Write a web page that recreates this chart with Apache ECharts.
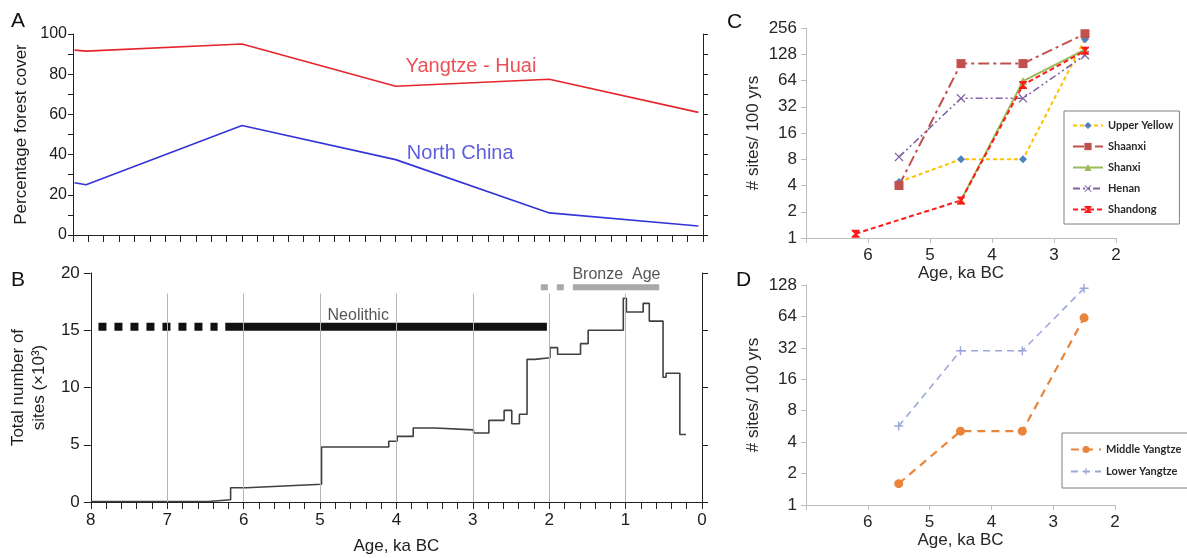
<!DOCTYPE html>
<html><head><meta charset="utf-8">
<script src="https://cdn.jsdelivr.net/npm/echarts@6/dist/echarts.min.js"></script>
<style>html,body{margin:0;padding:0;background:#fff}#c{width:1187px;height:558px}</style>
</head><body><div id="c"></div>
<script>
// ---------- Panel A: forest cover ----------
const forestAges = [8.18, 8.03, 6, 4, 2, 0.06];
const yangtzeHuai = [92, 91.5, 95, 74, 77.5, 61];
const northChina = [26, 25, 54.5, 37.5, 11, 4.5];
// ---------- Panel B: total sites (x10^3) step curve ----------
const stepStartAges = [8.0, 6.46, 6.17, 5.96, 5.47, 4.98, 4.1, 3.99, 3.78, 3.49, 2.99, 2.79, 2.59, 2.49, 2.39, 2.29, 2.19, 1.99, 1.89, 1.59, 1.49, 1.03, 0.99, 0.77, 0.69, 0.51, 0.47, 0.29];
const stepValues = [0.05, 0.2, 1.25, 1.4, 1.55, 4.8, 5.3, 5.73, 6.46, 6.3, 6.03, 7.13, 8.0, 6.84, 7.66, 12.46, 12.6, 13.48, 12.9, 13.83, 15.0, 17.8, 16.6, 17.35, 15.8, 10.9, 11.25, 5.9];
const stepEndAge = 0.21;
const gridAges = [7, 6, 5, 4, 3, 2, 1];
const gridTop = 18.2;
const neolithicDashed = [7.9, 6.34];
const neolithicSolid = [6.24, 2.03];
const neolithicLevel = 15.3;
const bronzeDashed = [2.11, 1.8];
const bronzeSolid = [1.69, 0.56];
const bronzeLevel = 18.76;
// ---------- Panel C: sites per 100 yrs, Yellow River regions ----------
const ageC = [5.5, 4.5, 3.5, 2.5];
const upperYellow = [4.4, 8, 8, 190];
const shaanxi = [4, 100, 100, 220];
const shanxi = [null, 2.7, 63, 145];
const henan = [8.5, 40, 40, 125];
const shandongAges = [6.2, 4.5, 3.5, 2.5];
const shandong = [1.12, 2.7, 57, 140];
// ---------- Panel D: Yangtze regions ----------
const ageD = [5.5, 4.5, 3.5, 2.5];
const middleYangtze = [1.6, 5.1, 5.1, 62];
const lowerYangtze = [5.7, 30, 30, 119];

const zip = (xs, ys) => xs.map((x, i) => [x, ys[i]]);
const stepData = zip(stepStartAges, stepValues).concat([[stepEndAge, stepValues[stepValues.length - 1]]]);

const F = 'Liberation Sans, Arial, sans-serif';
const TXT = '#1c1c1c';
const xSymbol = 'path://M0,1 L1,0 L5,4 L9,0 L10,1 L6,5 L10,9 L9,10 L5,6 L1,10 L0,9 L4,5 Z';
const plusSymbol = 'path://M4.2,0 H5.8 V4.2 H10 V5.8 H5.8 V10 H4.2 V5.8 H0 V4.2 H4.2 Z';
const starSymbol = 'path://M0,0 L10,0 L10,1.5 L6,5 L10,8.5 L10,10 L0,10 L0,8.5 L4,5 L0,1.5 Z';

const chart = echarts.init(document.getElementById('c'), null, {renderer: 'canvas'});

const blackLine = {show: true, onZero: false, lineStyle: {color: '#222', width: 1}};
const grayLine = {show: true, onZero: false, lineStyle: {color: '#bdbdbd', width: 1}};

const option = {
  animation: false,
  backgroundColor: '#fff',
  textStyle: {fontFamily: F},
  graphic: [
    {type: 'text', style: {text: 'A', x: 11, y: 11, font: '21px ' + F, fill: '#111'}},
    {type: 'text', style: {text: 'B', x: 11, y: 270, font: '21px ' + F, fill: '#111'}},
    {type: 'text', style: {text: 'C', x: 727, y: 12, font: '21px ' + F, fill: '#111'}},
    {type: 'text', style: {text: 'D', x: 736, y: 270, font: '21px ' + F, fill: '#111'}}
  ],
  grid: [
    {left: 73, top: 34, width: 630, height: 201},
    {left: 89, top: 273, width: 613, height: 229},
    {left: 806, top: 28, width: 310, height: 210},
    {left: 806, top: 285, width: 309, height: 220}
  ],
  xAxis: [
    {gridIndex: 0, type: 'value', min: 0, max: 8.2, interval: 0.2, inverse: true,
     axisLine: blackLine, axisTick: {show: true, length: 7, lineStyle: {color: '#222'}},
     axisLabel: {show: false}, splitLine: {show: false}},
    {gridIndex: 1, type: 'value', min: 0, max: 8, interval: 0.2, inverse: true,
     axisLine: blackLine, axisTick: {show: true, length: 7, lineStyle: {color: '#222'}},
     axisLabel: {color: TXT, fontSize: 17, margin: 10,
       formatter: v => Math.abs(v - Math.round(v)) < 1e-6 ? String(Math.round(v)) : ''},
     splitLine: {show: false},
     name: 'Age, ka BC', nameLocation: 'middle', nameGap: 36,
     nameTextStyle: {color: TXT, fontSize: 17}},
    {gridIndex: 2, type: 'value', min: 2, max: 7, interval: 1, inverse: true,
     axisLine: grayLine, axisTick: {show: true, length: 5, lineStyle: {color: '#bdbdbd'}},
     axisLabel: {color: '#262626', fontSize: 17, margin: 9, formatter: v => v === 7 ? '' : String(v)},
     splitLine: {show: false},
     name: 'Age, ka BC', nameLocation: 'middle', nameGap: 23,
     nameTextStyle: {color: '#262626', fontSize: 17}},
    {gridIndex: 3, type: 'value', min: 2, max: 7, interval: 1, inverse: true,
     axisLine: grayLine, axisTick: {show: true, length: 5, lineStyle: {color: '#bdbdbd'}},
     axisLabel: {color: '#262626', fontSize: 17, margin: 9, formatter: v => v === 7 ? '' : String(v)},
     splitLine: {show: false},
     name: 'Age, ka BC', nameLocation: 'middle', nameGap: 24,
     nameTextStyle: {color: '#262626', fontSize: 17}}
  ],
  yAxis: [
    {gridIndex: 0, type: 'value', min: 0, max: 100, interval: 10,
     axisLine: blackLine, axisTick: {show: true, length: 5, lineStyle: {color: '#222'}},
     axisLabel: {color: TXT, fontSize: 16, margin: 6, formatter: v => v % 20 === 0 ? String(v) : ''},
     splitLine: {show: false},
     name: 'Percentage forest cover', nameLocation: 'middle', nameGap: 40,
     nameTextStyle: {color: TXT, fontSize: 17}},
    {gridIndex: 0, type: 'value', position: 'right', min: 0, max: 100, interval: 10,
     axisLine: blackLine, axisTick: {show: true, length: 5, lineStyle: {color: '#222'}},
     axisLabel: {show: false}, splitLine: {show: false}},
    {gridIndex: 1, type: 'value', min: 0, max: 20, interval: 5,
     axisLine: blackLine, axisTick: {show: true, length: 7, lineStyle: {color: '#222'}},
     axisLabel: {color: TXT, fontSize: 17, margin: 11},
     splitLine: {show: false},
     name: 'Total number of\nsites (×10³)', nameLocation: 'middle', nameGap: 34,
     nameTextStyle: {color: TXT, fontSize: 17, lineHeight: 21}},
    {gridIndex: 1, type: 'value', position: 'right', min: 0, max: 20, interval: 5,
     axisLine: blackLine, axisTick: {show: true, length: 6, lineStyle: {color: '#222'}},
     axisLabel: {show: false}, splitLine: {show: false}},
    {gridIndex: 2, type: 'log', logBase: 2, min: 1, max: 256, interval: 1,
     axisLine: grayLine, axisTick: {show: true, length: 5, lineStyle: {color: '#bdbdbd'}},
     axisLabel: {color: '#262626', fontSize: 17, margin: 9, formatter: v => String(Math.round(v))},
     splitLine: {show: false},
     name: '# sites/ 100 yrs', nameLocation: 'middle', nameGap: 44,
     nameTextStyle: {color: '#262626', fontSize: 17}},
    {gridIndex: 3, type: 'log', logBase: 2, min: 1, max: 128, interval: 1,
     axisLine: grayLine, axisTick: {show: true, length: 5, lineStyle: {color: '#bdbdbd'}},
     axisLabel: {color: '#262626', fontSize: 17, margin: 9, formatter: v => String(Math.round(v))},
     splitLine: {show: false},
     name: '# sites/ 100 yrs', nameLocation: 'middle', nameGap: 44,
     nameTextStyle: {color: '#262626', fontSize: 17}}
  ],
  legend: [
    {data: ['Upper Yellow', 'Shaanxi', 'Shanxi', 'Henan', 'Shandong'],
     orient: 'vertical', left: 1064, top: 111, itemWidth: 30, itemHeight: 9, itemGap: 10,
     padding: [9, 6, 9, 8], borderColor: '#808080', borderWidth: 1, backgroundColor: '#fff',
     textStyle: {fontFamily: 'Lato, sans-serif', fontSize: 11, fontWeight: 'bold', color: '#2a2a2a'}},
    {data: ['Middle Yangtze', 'Lower Yangtze'],
     orient: 'vertical', left: 1062, top: 433, itemWidth: 30, itemHeight: 9, itemGap: 11,
     padding: [11, 20, 11, 8], borderColor: '#808080', borderWidth: 1, backgroundColor: '#fff',
     textStyle: {fontFamily: 'Lato, sans-serif', fontSize: 11, fontWeight: 'bold', color: '#2a2a2a'}}
  ],
  series: [
    // Panel A
    {type: 'line', xAxisIndex: 0, yAxisIndex: 0, data: zip(forestAges, yangtzeHuai), symbol: 'none',
     lineStyle: {color: '#e5262c', width: 1.6}},
    {type: 'line', xAxisIndex: 0, yAxisIndex: 0, data: zip(forestAges, northChina), symbol: 'none',
     lineStyle: {color: '#3434d8', width: 1.6}},
    {type: 'scatter', xAxisIndex: 0, yAxisIndex: 0, symbolSize: 0, silent: true,
     data: [{name: 'Yangtze - Huai', value: [3.02, 84]}],
     label: {show: true, position: 'inside', formatter: '{b}', color: '#e5262c', fontSize: 20, fontFamily: F}},
    {type: 'scatter', xAxisIndex: 0, yAxisIndex: 0, symbolSize: 0, silent: true,
     data: [{name: 'North China', value: [3.16, 40.8]}],
     label: {show: true, position: 'inside', formatter: '{b}', color: '#3434d8', fontSize: 20, fontFamily: F}},
    // Panel B grid lines
    {type: 'line', xAxisIndex: 1, yAxisIndex: 2, data: [], z: 1, silent: true,
     markLine: {silent: true, symbol: 'none', label: {show: false}, animation: false,
       lineStyle: {color: '#b5b5b5', width: 1, type: 'solid'},
       data: gridAges.map(a => [{coord: [a, 0]}, {coord: [a, gridTop]}])}},
    // Panel B step curve
    {type: 'line', xAxisIndex: 1, yAxisIndex: 2, step: 'end', data: stepData, symbol: 'none', z: 3,
     lineStyle: {color: '#404040', width: 1.6}},
    // Neolithic bar
    {type: 'line', xAxisIndex: 1, yAxisIndex: 2, symbol: 'none', z: 4,
     data: neolithicDashed.map(a => [a, neolithicLevel]),
     lineStyle: {color: '#111', width: 8, type: [8, 8], cap: 'butt'}},
    {type: 'line', xAxisIndex: 1, yAxisIndex: 2, symbol: 'none', z: 4,
     data: neolithicSolid.map(a => [a, neolithicLevel]),
     lineStyle: {color: '#111', width: 8, cap: 'butt'}},
    // Bronze Age bar
    {type: 'line', xAxisIndex: 1, yAxisIndex: 2, symbol: 'none', z: 4,
     data: bronzeDashed.map(a => [a, bronzeLevel]),
     lineStyle: {color: '#a9a9a9', width: 6, type: [7, 9], cap: 'butt'}},
    {type: 'line', xAxisIndex: 1, yAxisIndex: 2, symbol: 'none', z: 4,
     data: bronzeSolid.map(a => [a, bronzeLevel]),
     lineStyle: {color: '#a9a9a9', width: 6, cap: 'butt'}},
    {type: 'scatter', xAxisIndex: 1, yAxisIndex: 2, symbolSize: 0, silent: true,
     data: [{name: 'Neolithic', value: [4.5, 16.3]}, {name: 'Bronze  Age', value: [1.12, 19.9]}],
     label: {show: true, position: 'inside', formatter: '{b}', color: '#2a2a2a', fontSize: 16, fontFamily: F}},
    // Panel C
    {name: 'Upper Yellow', type: 'line', xAxisIndex: 2, yAxisIndex: 4, data: zip(ageC, upperYellow),
     symbol: 'diamond', symbolSize: 8, itemStyle: {color: '#4f81bd'},
     lineStyle: {color: '#ffc000', width: 2, type: [4, 3]}},
    {name: 'Shaanxi', type: 'line', xAxisIndex: 2, yAxisIndex: 4, data: zip(ageC, shaanxi),
     symbol: 'rect', symbolSize: 9, itemStyle: {color: '#c0504d'},
     lineStyle: {color: '#c0504d', width: 2, type: [11, 4, 3, 4]}},
    {name: 'Shanxi', type: 'line', xAxisIndex: 2, yAxisIndex: 4, data: zip(ageC, shanxi),
     symbol: 'triangle', symbolSize: 8, itemStyle: {color: '#9bbb59'},
     lineStyle: {color: '#9bbb59', width: 2}},
    {name: 'Henan', type: 'line', xAxisIndex: 2, yAxisIndex: 4, data: zip(ageC, henan),
     symbol: xSymbol, symbolSize: 9, itemStyle: {color: '#8064a2'},
     lineStyle: {color: '#8064a2', width: 1.6, type: [7, 3, 2, 3, 2, 3]}},
    {name: 'Shandong', type: 'line', xAxisIndex: 2, yAxisIndex: 4, data: zip(shandongAges, shandong),
     symbol: starSymbol, symbolSize: 8, itemStyle: {color: '#ff1a1a'},
     lineStyle: {color: '#ff1a1a', width: 2, type: [5, 3]}},
    // Panel D
    {name: 'Middle Yangtze', type: 'line', xAxisIndex: 3, yAxisIndex: 5, data: zip(ageD, middleYangtze),
     symbol: 'circle', symbolSize: 9, itemStyle: {color: '#e8853b'},
     lineStyle: {color: '#e8853b', width: 2.2, type: [8, 6]}},
    {name: 'Lower Yangtze', type: 'line', xAxisIndex: 3, yAxisIndex: 5, data: zip(ageD, lowerYangtze),
     symbol: plusSymbol, symbolSize: 9, itemStyle: {color: '#9ba8da'},
     lineStyle: {color: '#9ba8da', width: 1.6, type: [7, 5]}}
  ]
};
chart.setOption(option);
</script>
</body></html>
